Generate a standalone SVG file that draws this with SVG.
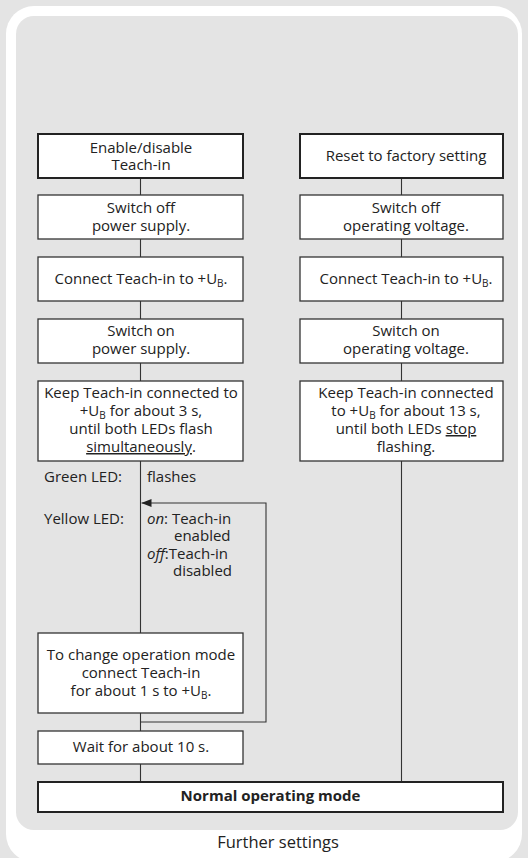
<svg xmlns="http://www.w3.org/2000/svg" width="528" height="858" viewBox="0 0 528 858">
<style>
  text { font-family: "Open Sans", "Noto Sans", "Liberation Sans", sans-serif; font-size: 15px; fill: #222; }
  .c { text-anchor: middle; }
  .box { fill: #fff; stroke: #333; stroke-width: 1.3; }
  .head { fill: #fff; stroke: #222; stroke-width: 2; }
  .con { fill: none; stroke: #333; stroke-width: 1.1; }
  .sub { font-size: 10px; }
  .u { text-decoration: underline; }
  .i { font-style: italic; }
  .b { font-weight: bold; }
  .cap { font-size: 16.5px; }
</style>
<defs>
  <marker id="arr" viewBox="0 0 10 8" refX="10" refY="4" markerWidth="10" markerHeight="8" markerUnits="userSpaceOnUse" orient="auto">
    <path d="M0,0 L10,4 L0,8 Z" fill="#222"/>
  </marker>
</defs>
<rect x="0" y="0" width="528" height="858" fill="#e4e4e4"/>
<rect x="6" y="6" width="516" height="856" rx="28" fill="#fff"/>
<rect x="16" y="16" width="502" height="814" rx="18" fill="#e4e4e4"/>

<g id="connectors">
  <path class="con" d="M140.5,178 V195 M140.5,239 V257 M140.5,301 V319 M140.5,363 V381 M140.5,461 V633 M140.5,713 V731 M140.5,764 V782"/>
  <path class="con" d="M401.5,178 V195 M401.5,239 V257 M401.5,301 V319 M401.5,363 V381 M401.5,461 V782"/>
  <path class="con" d="M140.5,722 H266 V503 H141.5" marker-end="url(#arr)"/>
</g>

<g id="n-enable">
  <rect class="head" x="38" y="134" width="205" height="44"/>
  <text class="c" x="141" y="153">Enable/disable</text>
  <text class="c" x="141" y="170">Teach-in</text>
</g>
<g id="n-switchoff-l">
  <rect class="box" x="38" y="195" width="205" height="44"/>
  <text class="c" x="141" y="213">Switch off</text>
  <text class="c" x="141" y="231">power supply.</text>
</g>
<g id="n-connect-l">
  <rect class="box" x="38" y="257" width="205" height="44"/>
  <text class="c" x="141" y="284">Connect Teach-in to +U<tspan class="sub" dy="3">B</tspan><tspan dy="-3">.</tspan></text>
</g>
<g id="n-switchon-l">
  <rect class="box" x="38" y="319" width="205" height="44"/>
  <text class="c" x="141" y="336">Switch on</text>
  <text class="c" x="141" y="354">power supply.</text>
</g>
<g id="n-keep-l">
  <rect class="box" x="38" y="381" width="205" height="80"/>
  <text class="c" x="141" y="398">Keep Teach-in connected to</text>
  <text class="c" x="141" y="416">+U<tspan class="sub" dy="3">B</tspan><tspan dy="-3"> for about 3 s,</tspan></text>
  <text class="c" x="141" y="434">until both LEDs flash</text>
  <text class="c" x="141" y="452"><tspan class="u">simultaneously</tspan>.</text>
</g>
<g id="n-leds">
  <text x="44" y="482">Green LED:</text>
  <text x="147" y="482">flashes</text>
  <text x="44" y="524">Yellow LED:</text>
  <text x="147" y="524"><tspan class="i">on</tspan>: Teach-in</text>
  <text x="174" y="541">enabled</text>
  <text x="147" y="559"><tspan class="i">off</tspan>:Teach-in</text>
  <text x="173" y="576">disabled</text>
</g>
<g id="n-change">
  <rect class="box" x="38" y="633" width="205" height="80"/>
  <text class="c" x="141" y="660">To change operation mode</text>
  <text class="c" x="141" y="678">connect Teach-in</text>
  <text class="c" x="141" y="696">for about 1 s to +U<tspan class="sub" dy="3">B</tspan><tspan dy="-3">.</tspan></text>
</g>
<g id="n-wait">
  <rect class="box" x="38" y="731" width="205" height="33"/>
  <text class="c" x="141" y="752">Wait for about 10 s.</text>
</g>

<g id="n-reset">
  <rect class="head" x="300" y="134" width="203" height="44"/>
  <text class="c" x="406" y="161">Reset to factory setting</text>
</g>
<g id="n-switchoff-r">
  <rect class="box" x="300" y="195" width="203" height="44"/>
  <text class="c" x="406" y="213">Switch off</text>
  <text class="c" x="406" y="231">operating voltage.</text>
</g>
<g id="n-connect-r">
  <rect class="box" x="300" y="257" width="203" height="44"/>
  <text class="c" x="406" y="284">Connect Teach-in to +U<tspan class="sub" dy="3">B</tspan><tspan dy="-3">.</tspan></text>
</g>
<g id="n-switchon-r">
  <rect class="box" x="300" y="319" width="203" height="44"/>
  <text class="c" x="406" y="336">Switch on</text>
  <text class="c" x="406" y="354">operating voltage.</text>
</g>
<g id="n-keep-r">
  <rect class="box" x="300" y="381" width="203" height="80"/>
  <text class="c" x="406" y="398">Keep Teach-in connected</text>
  <text class="c" x="406" y="416">to +U<tspan class="sub" dy="3">B</tspan><tspan dy="-3"> for about 13 s,</tspan></text>
  <text class="c" x="406" y="434">until both LEDs <tspan class="u">stop</tspan></text>
  <text class="c" x="406" y="452">flashing.</text>
</g>

<g id="n-normal">
  <rect class="head" x="38" y="782" width="465" height="30"/>
  <text class="c b" x="270.5" y="801">Normal operating mode</text>
</g>

<text class="c cap" x="278" y="848">Further settings</text>
</svg>
